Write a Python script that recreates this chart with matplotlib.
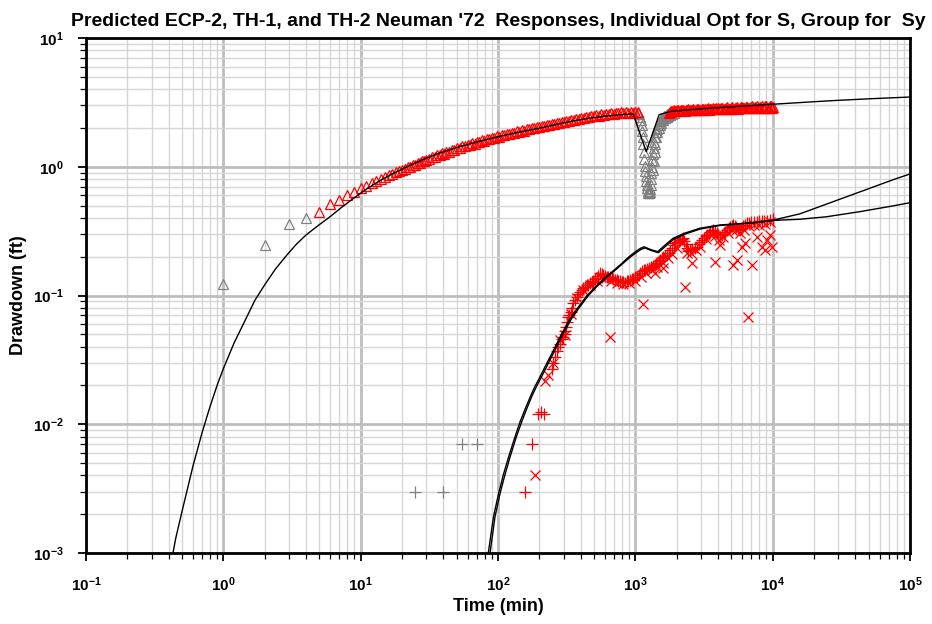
import matplotlib
matplotlib.use("Agg")
import matplotlib.pyplot as plt
from matplotlib.ticker import LogLocator, FixedLocator, FixedFormatter, NullFormatter

plt.rcParams['font.family'] = ['Liberation Sans', 'DejaVu Sans']
plt.rcParams['mathtext.fontset'] = 'custom'
plt.rcParams['mathtext.rm'] = 'Liberation Sans:bold'
plt.rcParams['mathtext.bf'] = 'Liberation Sans:bold'
plt.rcParams['mathtext.default'] = 'bf'

# ---------------- ECP-2 (upper) ----------------
ecp_model_t = [0.43, 0.45, 0.5, 0.55, 0.6, 0.7, 0.8, 0.9, 1.0, 1.2, 1.44, 1.7, 2.0, 2.4, 2.9, 3.4, 4.0,
               5.0, 6.0, 7.2, 8.8, 11, 13.8, 17, 21.7, 28, 37.8, 50, 65.8, 87, 116, 150, 202, 265, 352,
               470, 622, 800, 965, 1200, 1490, 1811, 3000, 5000, 10660, 20000, 30000, 50000, 100000]
ecp_model_s = [0.001, 0.0013, 0.0021, 0.0032, 0.0047, 0.0086, 0.0137, 0.020, 0.027, 0.043, 0.064, 0.092,
               0.121, 0.161, 0.206, 0.25, 0.295, 0.355, 0.41, 0.48, 0.565, 0.67, 0.78, 0.88, 1.0, 1.13,
               1.28, 1.41, 1.53, 1.65, 1.77, 1.88, 2.0, 2.13, 2.27, 2.39, 2.48, 2.54, 2.57, 1.31, 2.54,
               2.69, 2.82, 2.92, 3.07, 3.20, 3.28, 3.37, 3.48]

ecp_gray_early_t = [1, 2, 3, 4]
ecp_gray_early_s = [0.123, 0.247, 0.357, 0.40]

ecp_red_t = [5, 6, 7, 8, 9, 10, 11, 12, 13, 14, 15, 16, 17, 18, 19, 20, 22, 24, 26, 28, 30, 33, 36, 39,
             42, 46, 50, 55, 60, 65, 70, 76, 83, 90, 98, 107, 116, 126, 137, 149, 162, 176, 191, 208,
             226, 246, 267, 290, 315, 342, 372, 404, 439, 477, 518, 563, 612, 665, 723, 786, 854, 928,
             1000, 1050]
ecp_red_s = [0.448, 0.514, 0.552, 0.60, 0.635, 0.685, 0.71, 0.75, 0.78, 0.81, 0.835, 0.86, 0.885, 0.91,
             0.93, 0.95, 0.99, 1.03, 1.07, 1.10, 1.13, 1.18, 1.23, 1.27, 1.30, 1.35, 1.39, 1.44, 1.48,
             1.52, 1.56, 1.60, 1.64, 1.68, 1.72, 1.76, 1.80, 1.84, 1.88, 1.92, 1.96, 2.00, 2.04, 2.08,
             2.12, 2.16, 2.20, 2.24, 2.28, 2.32, 2.36, 2.40, 2.44, 2.48, 2.52, 2.55, 2.58, 2.61, 2.63,
             2.64, 2.65, 2.66, 2.66, 2.65]
ecp_red_t2 = [21, 23, 25, 27, 29, 31.5, 34.5, 37.5, 40.5, 44, 48, 52.5, 57.5, 62.5, 67.5, 73, 79.5, 86.5,
              94, 102, 111, 121, 131, 143, 155, 169, 183, 199, 217, 236, 256, 278, 302, 328, 357, 388,
              421, 458, 497, 540, 587, 638, 694, 754, 820, 890, 964]
ecp_red_s2 = [0.955, 0.995, 1.035, 1.07, 1.10, 1.14, 1.19, 1.23, 1.265, 1.305, 1.35, 1.395, 1.44, 1.48,
              1.515, 1.555, 1.595, 1.635, 1.675, 1.715, 1.755, 1.795, 1.83, 1.87, 1.91, 1.95, 1.99, 2.03,
              2.07, 2.11, 2.15, 2.19, 2.23, 2.265, 2.305, 2.345, 2.385, 2.425, 2.46, 2.50, 2.53, 2.555,
              2.58, 2.595, 2.605, 2.615, 2.62]

ecp_gray_dip_t = [1040, 1060, 1080, 1095, 1110, 1120, 1130, 1140, 1150, 1160, 1170, 1180, 1190, 1200,
                  1210, 1220, 1230, 1240, 1250, 1260, 1270, 1280, 1290, 1300, 1310, 1320, 1330, 1345,
                  1360, 1375, 1390, 1410, 1430, 1455, 1480, 1510, 1540, 1575, 1610, 1650, 1700]
ecp_gray_dip_s = [2.62, 2.55, 2.45, 2.3, 2.1, 1.9, 1.7, 1.5, 1.3, 1.15, 1.02, 0.92, 0.84, 0.77, 0.72,
                  0.68, 0.65, 0.63, 0.62, 0.62, 0.64, 0.67, 0.72, 0.80, 0.90, 1.0, 1.12, 1.25, 1.4, 1.55,
                  1.7, 1.85, 1.98, 2.1, 2.2, 2.28, 2.35, 2.41, 2.46, 2.5, 2.55]
ecp_gray_dip_t2 = [1340, 1360, 1380, 1400, 1425, 1450, 1480, 1510, 1550, 1590, 1640, 1690, 1740, 1800,
                   1860, 1920]
ecp_gray_dip_s2 = [0.95, 1.1, 1.3, 1.5, 1.7, 1.85, 2.0, 2.1, 2.2, 2.3, 2.38, 2.45, 2.5, 2.54, 2.57, 2.6]

ecp_red_late_t = [1750, 1820, 1900, 1980, 2060, 2150, 2240, 2330, 2430, 2530, 2640, 2750, 2860, 2980,
                  3110, 3240, 3370, 3510, 3660, 3810, 3970, 4140, 4310, 4490, 4680, 4870, 5080, 5290,
                  5510, 5740, 5980, 6230, 6490, 6760, 7040, 7340, 7640, 7960, 8300, 8640, 9000, 9380,
                  9770, 10000]
ecp_red_late_s = [2.62, 2.70, 2.74, 2.72, 2.76, 2.74, 2.78, 2.75, 2.79, 2.76, 2.80, 2.77, 2.82, 2.78,
                  2.83, 2.79, 2.84, 2.80, 2.86, 2.80, 2.87, 2.81, 2.88, 2.82, 2.89, 2.83, 2.90, 2.84,
                  2.91, 2.84, 2.92, 2.85, 2.93, 2.86, 2.94, 2.86, 2.95, 2.87, 2.96, 2.87, 2.97, 2.88,
                  2.97, 2.90]
ecp_red_late_t2 = [1785, 1860, 1940, 2020, 2100, 2195, 2285, 2380, 2480, 2585, 2695, 2805, 2920, 3045,
                   3175, 3305, 3440, 3585, 3735, 3890, 4055, 4225, 4400, 4585, 4775, 4975, 5185, 5400,
                   5625, 5860, 6105, 6360, 6625, 6900, 7190, 7490, 7800, 8130, 8470, 8820, 9190, 9575,
                   9900]
ecp_red_late_s2 = [2.66, 2.71, 2.70, 2.74, 2.71, 2.76, 2.73, 2.77, 2.74, 2.78, 2.75, 2.79, 2.76, 2.81,
                   2.77, 2.82, 2.78, 2.83, 2.79, 2.84, 2.80, 2.85, 2.81, 2.86, 2.82, 2.87, 2.82, 2.88,
                   2.83, 2.89, 2.84, 2.90, 2.84, 2.91, 2.85, 2.92, 2.86, 2.93, 2.86, 2.94, 2.87, 2.95,
                   2.88]

# ---------------- TH-1 / TH-2 (lower) ----------------
th1_model_t = [85, 92.6, 101, 109, 119, 132, 145, 158, 172, 185, 197, 220, 254, 292, 337, 386, 445, 512,
               588, 679, 786, 900, 985, 1085, 1160, 1285, 1455, 1635, 1880, 2290, 2950, 4130, 7200,
               10100, 15800, 24700, 43200, 75600, 100000]
th1_model_s = [0.001, 0.0019, 0.0029, 0.0040, 0.0055, 0.0078, 0.0105, 0.0132, 0.0164, 0.0195, 0.0221,
               0.028, 0.0376, 0.0508, 0.0668, 0.0818, 0.100, 0.117, 0.135, 0.153, 0.175, 0.20, 0.216,
               0.232, 0.239, 0.228, 0.219, 0.245, 0.278, 0.305, 0.333, 0.353, 0.368, 0.385, 0.431,
               0.513, 0.638, 0.794, 0.879]
th2_model_t = [87.5, 95, 103.5, 112, 122, 135, 149, 162, 176, 190, 202, 226, 260, 299, 345, 395, 455, 523,
               600, 692, 800, 915, 1000, 1100, 1175, 1300, 1469, 1650, 1892, 2300, 2960, 4143, 7200,
               10100, 15800, 24700, 43200, 75600, 100000]
th2_model_s = [0.001, 0.0019, 0.0029, 0.0040, 0.0055, 0.0078, 0.0105, 0.0132, 0.0164, 0.0195, 0.0221,
               0.028, 0.0376, 0.0508, 0.0668, 0.0818, 0.100, 0.117, 0.135, 0.153, 0.175, 0.198, 0.213,
               0.228, 0.234, 0.224, 0.215, 0.240, 0.272, 0.300, 0.328, 0.350, 0.366, 0.383, 0.391,
               0.409, 0.448, 0.497, 0.526]

th2_gray_t = [25, 40, 55, 70]
th2_gray_s = [0.003, 0.003, 0.007, 0.007]

th2_red_t = [157, 176, 195, 205, 215, 246, 260, 275, 290, 307, 313, 325, 338, 353, 374, 395, 418, 445,
             468, 495, 523, 553, 584, 620, 654, 689, 732, 773, 818, 866, 915, 966, 1031, 1090, 1150,
             1219, 1300, 1380, 1442, 1520, 1600, 1703, 1800, 1900, 2015, 2120, 2229, 2320, 2423, 2600,
             2818, 3000, 3160, 3333, 3500, 3684, 3900, 4143, 4400, 4660, 4900, 5156, 5450, 5785, 6100,
             6506, 7000, 7699, 8300, 9100, 10070]
th2_red_s = [0.003, 0.007, 0.012, 0.0125, 0.012, 0.027, 0.033, 0.040, 0.046, 0.050, 0.057, 0.068, 0.075,
             0.087, 0.098, 0.107, 0.114, 0.120, 0.124, 0.130, 0.136, 0.150, 0.144, 0.140, 0.138, 0.135,
             0.132, 0.130, 0.128, 0.129, 0.132, 0.135, 0.140, 0.150, 0.158, 0.160, 0.166, 0.172, 0.178,
             0.190, 0.198, 0.206, 0.225, 0.245, 0.262, 0.272, 0.280, 0.250, 0.222, 0.228, 0.239, 0.260,
             0.280, 0.295, 0.310, 0.323, 0.305, 0.286, 0.300, 0.323, 0.340, 0.353, 0.340, 0.323, 0.345,
             0.366, 0.370, 0.374, 0.377, 0.380, 0.390]
th2_red_t2 = [253, 268, 282, 298, 310, 319, 331, 345, 363, 384, 406, 431, 456, 481, 509, 538, 568, 602,
              637, 671, 710, 752, 795, 842, 890, 940, 998, 1060, 1120, 1185, 1260, 1340, 1410, 1480,
              1560, 1650, 1750, 1850, 1955, 2070, 2175, 2275, 2370, 2510, 2710, 2910, 3080, 3245, 3415,
              3590, 3790, 4020, 4270, 4530, 4780, 5030, 5300, 5620, 5940, 6300, 6750, 7350, 8000, 8700,
              9550]
th2_red_s2 = [0.030, 0.037, 0.042, 0.048, 0.053, 0.062, 0.071, 0.080, 0.093, 0.103, 0.111, 0.117, 0.121,
              0.127, 0.134, 0.143, 0.147, 0.142, 0.139, 0.137, 0.133, 0.130, 0.128, 0.126, 0.130, 0.134,
              0.138, 0.145, 0.154, 0.159, 0.163, 0.169, 0.175, 0.184, 0.194, 0.202, 0.215, 0.235, 0.254,
              0.267, 0.277, 0.265, 0.235, 0.225, 0.233, 0.250, 0.270, 0.288, 0.302, 0.317, 0.314, 0.295,
              0.293, 0.312, 0.332, 0.347, 0.347, 0.331, 0.334, 0.356, 0.368, 0.372, 0.376, 0.379, 0.385]

th1_red_t = [186, 220, 232, 250, 282, 307, 338, 374, 418, 468, 523, 560, 610, 670, 740, 820, 900, 1000,
             1100, 1200, 1320, 1450, 1580, 1720, 1850, 2000, 2180, 2380, 2550, 2750, 2950, 3250, 3550,
             3800, 4050, 4350, 4700, 5050, 5400, 5800, 6200, 6700, 7300, 8000, 8800, 9600,
             654, 1143, 1391, 1600, 2300, 2573, 3811, 4143, 5176, 5473, 5960, 6305, 6655, 7035, 7654,
             8318, 8790, 9057, 9550, 9840]
th1_red_s = [0.004, 0.0217, 0.0241, 0.030, 0.045, 0.049, 0.072, 0.095, 0.110, 0.120, 0.130, 0.140,
             0.136, 0.130, 0.125, 0.122, 0.125, 0.130, 0.140, 0.150, 0.158, 0.165, 0.180, 0.195, 0.210,
             0.235, 0.255, 0.215, 0.215, 0.225, 0.240, 0.275, 0.295, 0.290, 0.270, 0.285, 0.305, 0.325,
             0.320, 0.305, 0.325, 0.345, 0.350, 0.355, 0.360, 0.370,
             0.048, 0.086, 0.149, 0.163, 0.117, 0.180, 0.183, 0.247, 0.173, 0.189, 0.239, 0.254, 0.068,
             0.173, 0.286, 0.239, 0.225, 0.270, 0.295, 0.239]

x_ticks = [0.1, 1, 10, 100, 1000, 10000, 100000]
x_labels = [r'$10^{-1}$', r'$10^{0}$', r'$10^{1}$', r'$10^{2}$', r'$10^{3}$', r'$10^{4}$', r'$10^{5}$']
y_ticks = [0.001, 0.01, 0.1, 1, 10]
y_labels = [r'$10^{-3}$', r'$10^{-2}$', r'$10^{-1}$', r'$10^{0}$', r'$10^{1}$']

RED = '#ff0000'
GRAY = '#808080'

fig = plt.figure(figsize=(9.32, 6.24), dpi=100)
ax = fig.add_axes([86/932, 1-553/624, (910-86)/932, (553-38)/624])
ax.set_xscale('log')
ax.set_yscale('log')
ax.set_xlim(0.1, 1e5)
ax.set_ylim(1e-3, 10)

ax.grid(True, which='minor', color='#d6d6d6', linewidth=1.0, zorder=0)
ax.grid(True, which='major', color='#bdbdbd', linewidth=2.0, zorder=0)
ax.set_axisbelow(True)

tri = dict(marker='^', linestyle='none', markersize=6.5, markerfacecolor='none', markeredgewidth=0.9)
ax.plot(ecp_gray_early_t, ecp_gray_early_s, color=GRAY, **tri)
ax.plot(ecp_gray_dip_t, ecp_gray_dip_s, color=GRAY, **tri)
ax.plot(ecp_gray_dip_t2, ecp_gray_dip_s2, color=GRAY, **tri)
ax.plot(ecp_red_t, ecp_red_s, color=RED, **tri)
ax.plot(ecp_red_t2, ecp_red_s2, color=RED, **tri)
ax.plot(ecp_red_late_t, ecp_red_late_s, color=RED, **tri)
ax.plot(ecp_red_late_t2, ecp_red_late_s2, color=RED, **tri)

plus = dict(marker='+', linestyle='none', markersize=8, markeredgewidth=0.9)
ax.plot(th2_gray_t, th2_gray_s, color=GRAY, **plus)
ax.plot(th2_red_t, th2_red_s, color=RED, **plus)
ax.plot(th2_red_t2, th2_red_s2, color=RED, **plus)
ax.plot(th1_red_t, th1_red_s, color=RED, marker='x', linestyle='none', markersize=7, markeredgewidth=0.9)

ax.plot(ecp_model_t, ecp_model_s, color='black', linewidth=1.0, zorder=5)
ax.plot(th1_model_t, th1_model_s, color='black', linewidth=1.0, zorder=5)
ax.plot(th2_model_t, th2_model_s, color='black', linewidth=1.0, zorder=5)

for s in ax.spines.values():
    s.set_linewidth(2.0)

ax.xaxis.set_major_locator(FixedLocator(x_ticks))
ax.xaxis.set_major_formatter(FixedFormatter(x_labels))
ax.yaxis.set_major_locator(FixedLocator(y_ticks))
ax.yaxis.set_major_formatter(FixedFormatter(y_labels))
ax.xaxis.set_minor_locator(LogLocator(base=10, subs=range(2, 10), numticks=20))
ax.yaxis.set_minor_locator(LogLocator(base=10, subs=range(2, 10), numticks=20))
ax.xaxis.set_minor_formatter(NullFormatter())
ax.yaxis.set_minor_formatter(NullFormatter())
ax.tick_params(which='major', direction='out', length=6, width=1.3, labelsize=11, pad=10)
ax.tick_params(which='minor', direction='out', length=4, width=0.9)

ax.set_xlabel('Time (min)', fontsize=13, fontweight='bold', labelpad=3)
ax.set_ylabel('Drawdown (ft)', fontsize=13, fontweight='bold', labelpad=4)
ax.set_title("Predicted ECP-2, TH-1, and TH-2 Neuman '72  Responses, Individual Opt for S, Group for  Sy",
             fontsize=14, fontweight='bold', pad=9)

fig.savefig('out.png', dpi=100)
